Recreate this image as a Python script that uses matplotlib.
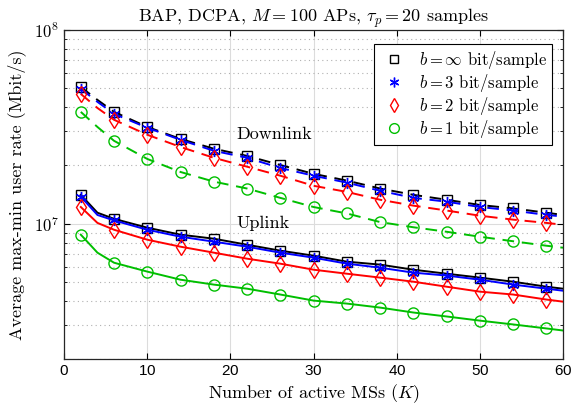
import matplotlib
matplotlib.use('Agg')
import matplotlib.pyplot as plt
from matplotlib.ticker import LogLocator, NullFormatter, FixedLocator, FuncFormatter
import numpy as np

plt.rcParams['font.family'] = ['Liberation Sans', 'DejaVu Sans']
plt.rcParams['mathtext.fontset'] = 'cm'
plt.rcParams['axes.unicode_minus'] = False
plt.rcParams['axes.formatter.use_mathtext'] = True

# number of active MSs
K = [2, 4, 6, 10, 14, 18, 22, 26, 30, 34, 38, 42, 46, 50, 54, 58, 60]
# markers only at K = 2, 6, 10, ..., 58
mark_idx = [0, 2, 3, 4, 5, 6, 7, 8, 9, 10, 11, 12, 13, 14, 15]

# downlink rates
dl_inf = [5.08e7, 4.36e7, 3.78e7, 3.16e7, 2.74e7, 2.44e7, 2.24e7, 2.01e7, 1.81e7,
          1.67e7, 1.52e7, 1.41e7, 1.33e7, 1.25e7, 1.20e7, 1.14e7, 1.11e7]
dl_b3 = [4.97e7, 4.26e7, 3.69e7, 3.13e7, 2.71e7, 2.38e7, 2.19e7, 1.94e7, 1.77e7,
         1.63e7, 1.48e7, 1.36e7, 1.30e7, 1.22e7, 1.17e7, 1.11e7, 1.09e7]
dl_b2 = [4.68e7, 3.96e7, 3.44e7, 2.88e7, 2.49e7, 2.19e7, 1.97e7, 1.77e7, 1.57e7,
         1.46e7, 1.33e7, 1.24e7, 1.17e7, 1.10e7, 1.05e7, 1.01e7, 9.88e6]
dl_b1 = [3.78e7, 3.16e7, 2.68e7, 2.16e7, 1.85e7, 1.65e7, 1.52e7, 1.36e7, 1.22e7,
         1.13e7, 1.02e7, 9.59e6, 9.09e6, 8.57e6, 8.12e6, 7.70e6, 7.52e6]

# uplink rates
ul_inf = [1.41e7, 1.14e7, 1.06e7, 9.54e6, 8.78e6, 8.37e6, 7.79e6, 7.26e6, 6.84e6,
          6.37e6, 6.15e6, 5.79e6, 5.52e6, 5.27e6, 5.02e6, 4.73e6, 4.62e6]
ul_b3 = [1.38e7, 1.11e7, 1.04e7, 9.31e6, 8.57e6, 8.08e6, 7.61e6, 7.09e6, 6.68e6,
         6.22e6, 5.93e6, 5.59e6, 5.40e6, 5.14e6, 4.85e6, 4.62e6, 4.51e6]
ul_b2 = [1.22e7, 1.01e7, 9.31e6, 8.27e6, 7.61e6, 7.09e6, 6.60e6, 6.22e6, 5.79e6,
         5.52e6, 5.27e6, 5.02e6, 4.73e6, 4.46e6, 4.31e6, 4.06e6, 3.96e6]
ul_b1 = [8.78e6, 7.09e6, 6.29e6, 5.66e6, 5.14e6, 4.85e6, 4.62e6, 4.31e6, 4.01e6,
         3.87e6, 3.69e6, 3.48e6, 3.32e6, 3.16e6, 3.02e6, 2.88e6, 2.81e6]

labels = [r'$b=\infty$ bit/sample', r'$b=3$ bit/sample',
          r'$b=2$ bit/sample', r'$b=1$ bit/sample']
colors = ['k', '#0000ff', '#ff0000', '#00bf00']
markers = ['s', (6, 2, 0), 'd', 'o']
msizes = [7, 8, 8, 8]

fig = plt.figure(figsize=(5.73, 4.09), dpi=100)
ax = fig.add_axes([0.112, 0.122, 0.8705, 0.8045])

dl = [dl_inf, dl_b3, dl_b2, dl_b1]
ul = [ul_inf, ul_b3, ul_b2, ul_b1]
for i in range(4):
    ax.plot(K, dl[i], '--', color=colors[i], lw=1.4, dashes=(6, 4),
            marker=markers[i], ms=msizes[i], mfc='none', mew=1.0, markevery=mark_idx)
    ax.plot(K, ul[i], '-', color=colors[i], lw=1.4,
            marker=markers[i], ms=msizes[i], mfc='none', mew=1.0, markevery=mark_idx)

# legend shows markers only
handles = [plt.Line2D([], [], ls='none', color=colors[i], marker=markers[i],
                      ms=msizes[i] - 1, mfc='none', mew=1.0) for i in range(4)]
leg = ax.legend(handles, labels, loc='upper right', bbox_to_anchor=(0.978, 0.957),
                borderaxespad=0, prop={'family': 'cmr10', 'size': 12}, fancybox=False,
                edgecolor='k', framealpha=1, borderpad=0.3, labelspacing=0.05,
                handletextpad=0.6, handlelength=1.8)
leg.get_frame().set_linewidth(0.8)

ax.set_yscale('log')
ax.set_xlim(0, 60)
ax.set_ylim(2e6, 1e8)
ax.xaxis.set_major_locator(FixedLocator([0, 10, 20, 30, 40, 50, 60]))
ax.yaxis.set_major_locator(LogLocator(base=10))
ax.yaxis.set_major_formatter(
    FuncFormatter(lambda v, pos: r'$\mathsf{10^{%d}}$' % round(np.log10(v))))
ax.yaxis.set_minor_locator(LogLocator(base=10, subs=range(2, 10)))
ax.yaxis.set_minor_formatter(NullFormatter())

ax.grid(True, which='major', color='#dcdcdc', lw=0.8, ls='-')
ax.grid(True, which='minor', axis='y', color='#b0b0b0', lw=0.8, ls=(0, (1, 3)))
ax.set_axisbelow(True)
ax.tick_params(which='both', direction='in', top=True, right=True, labelsize=11)
ax.tick_params(axis='y', which='major', labelsize=12)
ax.tick_params(which='major', length=4)
ax.tick_params(which='minor', length=2.5)
for s in ax.spines.values():
    s.set_linewidth(0.9)
    s.set_color('#262626')

ax.text(20.7, 2.91e7, 'Downlink', family='cmr10', fontsize=13, va='center', ha='left')
ax.text(20.7, 1.01e7, 'Uplink', family='cmr10', fontsize=13, va='center', ha='left')

ax.set_title(r'BAP, DCPA, $M=100$ APs, $\tau_p=20$ samples', family='cmr10',
             fontsize=13, pad=6)
ax.set_xlabel(r'Number of active MSs ($K$)', family='cmr10', fontsize=13, labelpad=3)
ax.set_ylabel('Average max-min user rate (Mbit/s)', family='cmr10', fontsize=13,
              labelpad=6)

fig.savefig('out.png', dpi=100)
